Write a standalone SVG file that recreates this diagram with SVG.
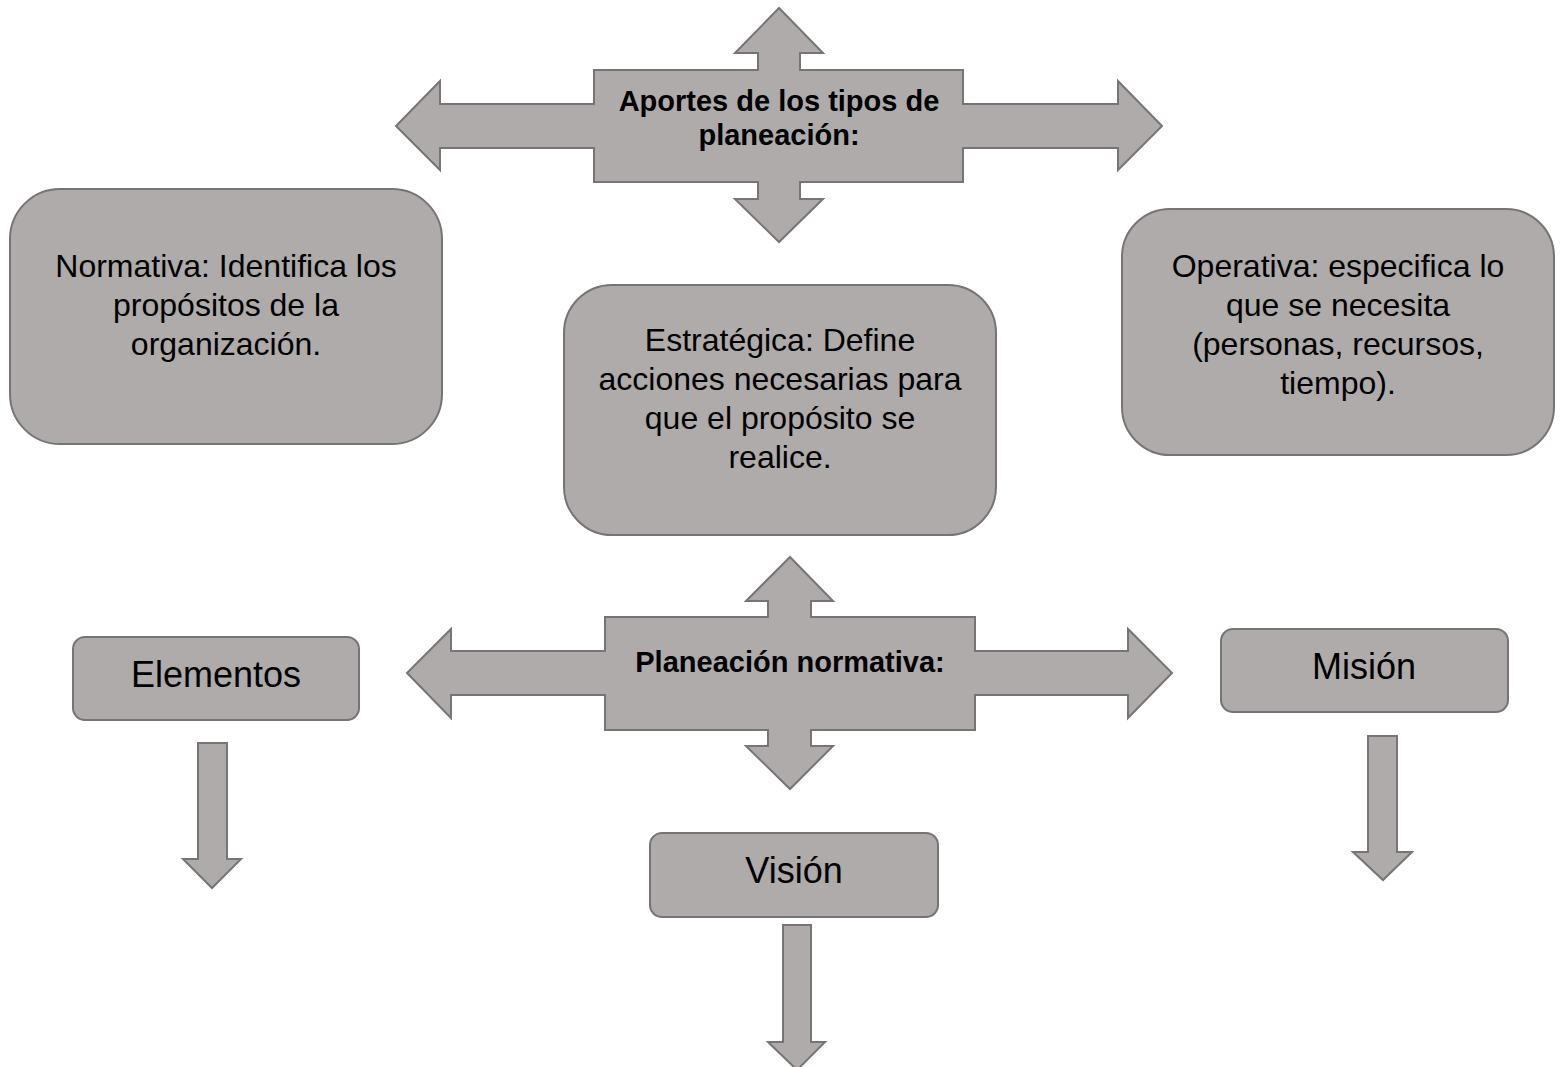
<svg xmlns="http://www.w3.org/2000/svg" width="1564" height="1067" viewBox="0 0 1564 1067">
<style>
.shape{fill:#AEABAA;stroke:#767474;stroke-width:2;stroke-linejoin:miter}
.t{font-family:"Liberation Sans",Arial,sans-serif;font-size:32px;fill:#000;text-anchor:middle}
.tl{font-family:"Liberation Sans",Arial,sans-serif;font-size:36px;fill:#000;text-anchor:middle}
.tb{font-family:"Liberation Sans",Arial,sans-serif;font-size:29px;font-weight:bold;fill:#000;text-anchor:middle}
</style>
<rect width="1564" height="1067" fill="#fff"/>
<g id="aportes">
<path class="shape" d="M779,8 L823,53 L800,53 L800,70 L963,70 L963,104 L1118,104 L1118,81 L1162,126 L1118,170 L1118,148 L963,148 L963,182 L800,182 L800,199 L823,199 L779,242 L735,199 L758,199 L758,182 L594,182 L594,148 L440,148 L440,170 L396,126 L440,81 L440,104 L594,104 L594,70 L758,70 L758,53 L735,53 Z"/>
<text class="tb" x="779" y="111">Aportes de los tipos de</text>
<text class="tb" x="779" y="145">planeación:</text>
</g>
<g id="normativa">
<rect class="shape" x="10" y="189" width="432" height="255" rx="50" ry="50"/>
<text class="t" x="226" y="277">Normativa: Identifica los</text>
<text class="t" x="226" y="316">propósitos de la</text>
<text class="t" x="226" y="355">organización.</text>
</g>
<g id="estrategica">
<rect class="shape" x="564" y="285" width="432" height="250" rx="48" ry="48"/>
<text class="t" x="780" y="351">Estratégica: Define</text>
<text class="t" x="780" y="390">acciones necesarias para</text>
<text class="t" x="780" y="429">que el propósito se</text>
<text class="t" x="780" y="468">realice.</text>
</g>
<g id="operativa">
<rect class="shape" x="1122" y="209" width="432" height="246" rx="48" ry="48"/>
<text class="t" x="1338" y="277">Operativa: especifica lo</text>
<text class="t" x="1338" y="316">que se necesita</text>
<text class="t" x="1338" y="355">(personas, recursos,</text>
<text class="t" x="1338" y="394">tiempo).</text>
</g>
<g id="planeacion-normativa">
<path class="shape" d="M790,557 L833,601 L811,601 L811,617 L975,617 L975,651 L1128,651 L1128,629 L1172,673 L1128,718 L1128,695 L975,695 L975,730 L811,730 L811,746 L833,746 L790,789 L746,746 L768,746 L768,730 L605,730 L605,695 L451,695 L451,718 L407,673 L451,629 L451,651 L605,651 L605,617 L768,617 L768,601 L746,601 Z"/>
<text class="tb" x="790" y="672">Planeación normativa:</text>
</g>
<g id="elementos">
<rect class="shape" x="73" y="637" width="286" height="83" rx="12" ry="12"/>
<text class="tl" x="216" y="687">Elementos</text>
</g>
<g id="mision">
<rect class="shape" x="1221" y="629" width="287" height="83" rx="12" ry="12"/>
<text class="tl" x="1364" y="679">Misión</text>
</g>
<g id="vision">
<rect class="shape" x="650" y="833" width="288" height="84" rx="12" ry="12"/>
<text class="tl" x="794" y="883">Visión</text>
</g>
<g id="connectors">
<path class="shape" d="M198,743 L227,743 L227,859 L241,859 L212,888 L183,859 L198,859 Z"/>
<path class="shape" d="M1368,736 L1397,736 L1397,852 L1412,852 L1383,880 L1353,852 L1368,852 Z"/>
<path class="shape" d="M783,925 L811,925 L811,1042 L825,1042 L797,1070 L768,1042 L783,1042 Z"/>
</g>
</svg>
